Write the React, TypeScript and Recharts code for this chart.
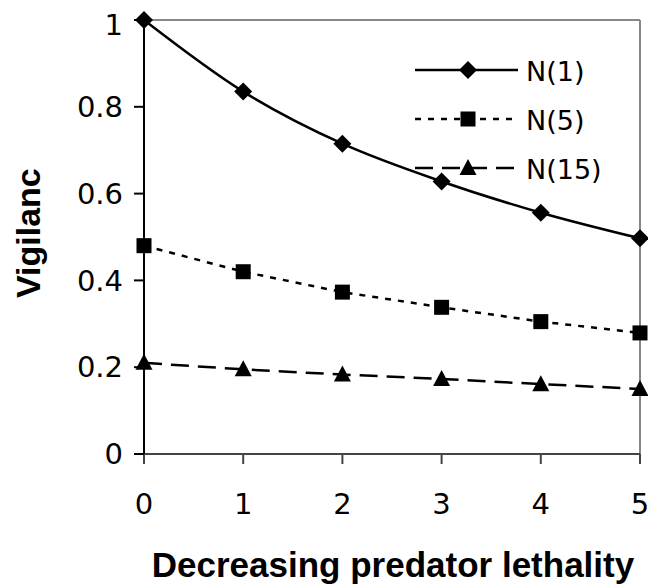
import { LineChart, Line, XAxis, YAxis, ReferenceLine } from 'recharts';

const lethality = [0, 1, 2, 3, 4, 5];
const n1 = [1, 0.835, 0.715, 0.628, 0.556, 0.497];
const n5 = [0.48, 0.42, 0.373, 0.338, 0.305, 0.279];
const n15 = [0.21, 0.195, 0.183, 0.173, 0.161, 0.15];
const yTicks = [0, 0.2, 0.4, 0.6, 0.8, 1];
const seriesNames = ['N(1)', 'N(5)', 'N(15)'];

const data = lethality.map((x, i) => ({ x, n1: n1[i], n5: n5[i], n15: n15[i] }));

const FONT = '"DejaVu Sans", sans-serif';
const BOLD_FONT = '"Liberation Sans", Arial, sans-serif';

const Diamond = ({ cx, cy }: any) => (
  <path d={`M${cx},${cy - 9} L${cx + 9},${cy} L${cx},${cy + 9} L${cx - 9},${cy} Z`} fill='#000' />
);
const Square = ({ cx, cy }: any) => <rect x={cx - 7.5} y={cy - 7.5} width={15} height={15} fill='#000' />;
const Triangle = ({ cx, cy }: any) => (
  <path d={`M${cx},${cy - 9} L${cx + 8.5},${cy + 7} L${cx - 8.5},${cy + 7} Z`} fill='#000' />
);

const dotFn = (Shape: any) => (p: any) => <Shape key={p.index} cx={p.cx} cy={p.cy} />;

const fmt = (v: number) => (v === 0 || v === 1 ? String(v) : v.toFixed(1));

function LegendBox() {
  const rows = [
    { name: seriesNames[0], dash: undefined, Shape: Diamond },
    { name: seriesNames[1], dash: '6 7', Shape: Square },
    { name: seriesNames[2], dash: '18 9', Shape: Triangle },
  ];
  return (
    <svg width={240} height={150} style={{ position: 'absolute', left: 400, top: 40 }}>
      {rows.map((r, i) => {
        const y = 22 + i * 49;
        return (
          <g key={r.name}>
            <line x1={7} x2={110} y1={y} y2={y} stroke='#000' strokeWidth={2.5} strokeDasharray={r.dash} />
            <r.Shape cx={60} cy={y} />
            <text x={118} y={y + 1} dominantBaseline='central' fontSize={27} fontFamily={FONT} fill='#000'>
              {r.name}
            </text>
          </g>
        );
      })}
    </svg>
  );
}

export default function App() {
  return (
    <div style={{ width: 648, height: 579, position: 'relative' }}>
      <LineChart
        width={648}
        height={579}
        data={data}
        margin={{ top: 12, right: 16, bottom: 0, left: 0 }}>
        <XAxis
          dataKey='x'
          type='number'
          domain={[0, 5]}
          ticks={lethality}
          stroke='#444'
          strokeWidth={2}
          tickSize={10}
          tickMargin={29}
          height={133}
          tick={{ fontSize: 29, fill: '#000', fontFamily: FONT }}
          label={(props: any) => {
            const vb = props.viewBox;
            return (
              <text
                x={vb.x + vb.width / 2 + 1}
                y={569}
                textAnchor='middle'
                fontSize={35}
                fontWeight='bold'
                fontFamily={BOLD_FONT}
                fill='#000'>
                Decreasing predator lethality
              </text>
            );
          }}
        />
        <YAxis
          type='number'
          domain={[0, 1]}
          ticks={yTicks}
          tickFormatter={fmt}
          stroke='#000'
          strokeWidth={2}
          tickSize={10}
          tickMargin={11}
          width={136}
          tick={{ fontSize: 29, fill: '#000', fontFamily: FONT }}
          label={() => (
            <text
              transform={`translate(32, 290) rotate(-90)`}
              textAnchor='start'
              fontSize={34}
              fontWeight='bold'
              fontFamily={BOLD_FONT}
              fill='#000'>
              Vigilanc
            </text>
          )}
        />
        <ReferenceLine y={1} stroke='#888' strokeWidth={2} />
        <ReferenceLine x={5} stroke='#888' strokeWidth={2} />
        <Line
          dataKey='n1'
          name={seriesNames[0]}
          type='monotone'
          stroke='#000'
          strokeWidth={2.5}
          dot={dotFn(Diamond)}
          isAnimationActive={false}
        />
        <Line
          dataKey='n5'
          name={seriesNames[1]}
          type='linear'
          stroke='#000'
          strokeWidth={2.5}
          strokeDasharray='6 7'
          dot={dotFn(Square)}
          isAnimationActive={false}
        />
        <Line
          dataKey='n15'
          name={seriesNames[2]}
          type='linear'
          stroke='#000'
          strokeWidth={2.5}
          strokeDasharray='18 9'
          dot={dotFn(Triangle)}
          isAnimationActive={false}
        />
      </LineChart>
      <LegendBox />
    </div>
  );
}
